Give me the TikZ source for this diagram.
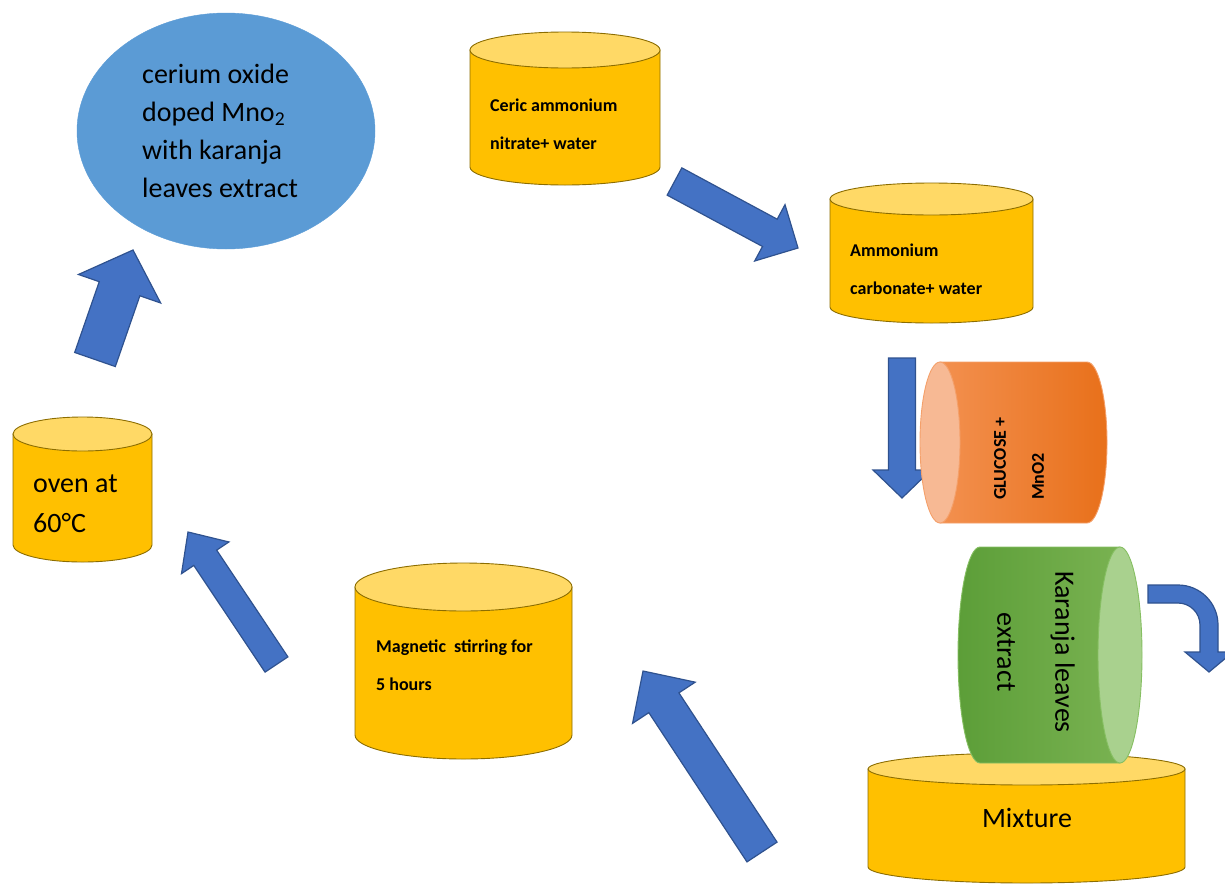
\documentclass[tikz,border=0pt]{standalone}
\usepackage{fontspec}
\setmainfont{Carlito}
\usetikzlibrary{calc,shapes.geometric}
\definecolor{cylfill}{HTML}{FFC000}
\definecolor{cyltopc}{HTML}{FFD966}
\definecolor{cyledge}{HTML}{8C6D00}
\definecolor{arrfill}{HTML}{4472C4}
\definecolor{arredge}{HTML}{2F528F}
\definecolor{ellfill}{HTML}{5B9BD5}
\definecolor{orgL}{HTML}{F3904F}
\definecolor{orgR}{HTML}{E8701A}
\definecolor{orgface}{HTML}{F7B994}
\definecolor{orgedge}{HTML}{F4A06A}
\definecolor{grnL}{HTML}{5C9E38}
\definecolor{grnR}{HTML}{79B251}
\definecolor{grnface}{HTML}{A9D18E}
\definecolor{grnedge}{HTML}{86BF62}
\tikzset{
  cylbody/.style={fill=cylfill, draw=cyledge, line width=0.9pt},
  cyltop/.style={fill=cyltopc, draw=cyledge, line width=0.9pt},
  blockarr/.style={fill=arrfill, draw=arredge, line width=1.2pt, line join=miter},
  smalltxt/.style={font=\bfseries\fontsize{18}{38}\selectfont, align=left, anchor=west, inner sep=0pt},
  bigtxt/.style={font=\fontsize{28}{38}\selectfont, align=left, inner sep=0pt},
}
% vertical cylinder: cx, ytop, ybot, rx, ry
\newcommand\vcyl[5]{%
  \path[cylbody] (#1-#4,#2) -- (#1-#4,#3) arc[start angle=180,end angle=0,x radius=#4,y radius=#5] -- (#1+#4,#2) -- cycle;
  \path[cyltop] (#1,#2) ellipse[x radius=#4,y radius=#5];
}
% block arrow: prefix, tail, tip, half shaft, half head, head length
\newcommand\blockarrow[6]{%
  \coordinate (#1h) at ($(#3)!#6pt!(#2)$);
  \path[blockarr] ($(#2)!#4pt!90:(#3)$) -- ($(#1h)!#4pt!90:(#3)$) -- ($(#1h)!#5pt!90:(#3)$) -- (#3)
    -- ($(#1h)!#5pt!-90:(#3)$) -- ($(#1h)!#4pt!-90:(#3)$) -- ($(#2)!#4pt!-90:(#3)$) -- cycle;
}
\begin{document}
\begin{tikzpicture}[x=1pt,y=-1pt]
\useasboundingbox (0,0) rectangle (1225,889);
\clip (0,0) rectangle (1225,889);

% product ellipse
\node[ellipse, fill=ellfill, draw=ellfill, minimum width=298pt, minimum height=236pt, inner sep=0pt] (prod) at (226,131) {};
\node[bigtxt, anchor=west] (prodtxt) at (142,131) {cerium oxide\\doped Mno\textsubscript{2}\\with karanja\\leaves extract};

% Ceric ammonium nitrate cylinder
\vcyl{565}{50}{167}{95}{18}
\node[smalltxt] (ceric) at (490,124) {Ceric ammonium\\nitrate+ water};

% Ammonium carbonate cylinder
\vcyl{931.5}{199}{307}{101.5}{16}
\node[smalltxt] (ammon) at (850,269) {Ammonium\\carbonate+ water};

% arrows a and b
\coordinate (aT) at (674.5,181.5);
\coordinate (aP) at (798,248);
\blockarrow{a}{aT}{aP}{15.5}{32}{32}
\coordinate (bT) at (902,358);
\coordinate (bP) at (902,498);
\blockarrow{b}{bT}{bP}{13.5}{29}{28}

% orange glucose cylinder (horizontal)
\path[draw=orgedge, line width=0.9pt, left color=orgL, right color=orgR]
  (940,362) -- (1087,362) arc[start angle=-90,end angle=90,x radius=20,y radius=80.5] -- (940,523) -- cycle;
\path[fill=orgface, draw=orgedge, line width=0.9pt] (940,442.5) ellipse[x radius=20,y radius=80.5];
\node[font=\bfseries\fontsize{18}{38}\selectfont, align=left, inner sep=0pt, rotate=90, anchor=west] (gluc) at (1019,500) {GLUCOSE +\\MnO2};

% Mixture cylinder
\vcyl{1026.5}{769}{867}{158.5}{16}
\node[bigtxt] (mix) at (1027,818) {Mixture};

% green karanja cylinder (horizontal)
\path[draw=grnedge, line width=0.9pt, left color=grnL, right color=grnR]
  (1120,547) -- (980,547) arc[start angle=-90,end angle=-270,x radius=22,y radius=108] -- (1120,763) -- cycle;
\path[fill=grnface, draw=grnedge, line width=0.9pt] (1120,655) ellipse[x radius=22,y radius=108];
\node[font=\fontsize{28}{58}\selectfont, align=center, inner sep=0pt, rotate=-90] (kar) at (1036,652) {Karanja leaves\\extract};

% bent arrow
\coordinate (bentS) at (1148,594);
\path[blockarr] (1148,585) -- (1178,585) arc[start angle=-90,end angle=0,radius=40] -- (1218,652) -- (1233,652) -- (1209,672)
  -- (1185,652) -- (1200,652) -- (1200,625) arc[start angle=0,end angle=-90,radius=22] -- (1178,603) -- (1148,603) -- cycle;

% Magnetic stirring cylinder
\vcyl{463.5}{587}{735}{108.5}{24}
\node[smalltxt] (mag) at (376,665) {Magnetic\ \ stirring for\\5 hours};

% arrows c and d
\coordinate (cT) at (762,852);
\coordinate (cP) at (643,671);
\blockarrow{c}{cT}{cP}{18}{37.5}{38}
\coordinate (dT) at (276.5,664.5);
\coordinate (dP) at (188,532);
\blockarrow{d}{dT}{dP}{13.75}{28.5}{31}

% oven cylinder
\vcyl{82.5}{434}{545}{69.5}{17}
\node[bigtxt, anchor=west, font=\fontsize{28}{40}\selectfont] (oven) at (33,504) {oven at\\60°C};

% arrow e
\coordinate (eT) at (95,359.5);
\coordinate (eP) at (133,250);
\blockarrow{e}{eT}{eP}{21.5}{43.5}{41}
\end{tikzpicture}
\end{document}
